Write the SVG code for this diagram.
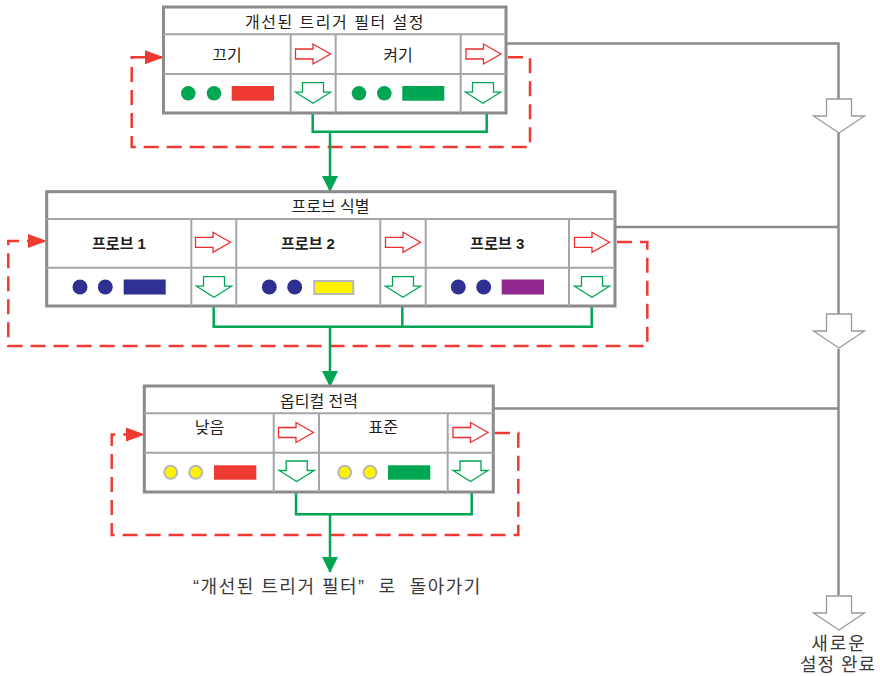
<svg xmlns="http://www.w3.org/2000/svg" width="880" height="676" viewBox="0 0 880 676">
<style>
.outer{fill:#fff;stroke:#8b8b8d;stroke-width:3}
.inner{stroke:#a6a6a8;stroke-width:2;fill:none}
.t{font-family:"Liberation Sans","Noto Sans CJK KR",sans-serif;fill:#231f20;text-anchor:middle}
.title{font-size:16px}
.lbl{font-size:16px}
.bold{font-size:15px;font-weight:bold}
.big{font-size:18px;fill:#3a3a3a}
.redarr{fill:#fff;stroke:#ee2d2d;stroke-width:1.3}
.grnarr{fill:#fff;stroke:#00a651;stroke-width:1.3}
.grayarr{fill:#fff;stroke:#9a9a9c;stroke-width:1.3}
.dash{fill:none;stroke:#ee3a32;stroke-width:2.5;stroke-dasharray:15 8}
.grn{fill:none;stroke:#00a651;stroke-width:2.5}
.gray{fill:none;stroke:#8b8b8d;stroke-width:2.5}
.g{fill:#00a651}.r{fill:#ee3a32}.n{fill:#2e3192}.p{fill:#92278f}
.y{fill:#fff200;stroke:#b8b8b8;stroke-width:2}
</style>
<defs>
<path id="ra" class="redarr" d="M-17.5,-5 H0 V-10 L17.5,0 L0,10 V5 H-17.5 Z"/>
<path id="ga" class="grnarr" d="M-10.5,0 H10.5 V9.5 H17.5 L0,20.5 L-17.5,9.5 H-10.5 Z"/>
<path id="ba" class="grayarr" d="M-12.5,0 H12.5 V17 H25.5 L0,34 L-25.5,17 H-12.5 Z"/>
<marker id="mr" viewBox="0 0 19 14" refX="18" refY="7" markerWidth="19" markerHeight="14" markerUnits="userSpaceOnUse" orient="auto"><path d="M0,0 L19,7 L0,14 Z" fill="#ee3a32"/></marker>
<marker id="mg" viewBox="0 0 16 16" refX="15" refY="8" markerWidth="16" markerHeight="16" markerUnits="userSpaceOnUse" orient="auto"><path d="M0,0 L16,8 L0,16 Z" fill="#00a651"/></marker>
</defs>

<g id="connectors">
<path class="gray" d="M506,43.5 H838.5 V99"/>
<path class="gray" d="M838.5,133 V314"/>
<path class="gray" d="M615,227 H838.5"/>
<path class="gray" d="M838.5,349 V595"/>
<path class="gray" d="M493,408.5 H838.5"/>
<use href="#ba" x="839" y="99"/>
<use href="#ba" x="839" y="314"/>
<use href="#ba" x="839" y="596"/>
<path class="dash" d="M508,57.3 H530 V147 H131.7 V57.3 H163" marker-end="url(#mr)"/>
<path class="dash" d="M617,242 H647.3 V346 H8.3 V241 H46" marker-end="url(#mr)"/>
<path class="dash" d="M495,433 H518.3 V535 H111.7 V434.5 H144" marker-end="url(#mr)"/>
<path class="grn" d="M312.7,113 V131.7 H486.7 V113"/>
<path class="grn" d="M330,131.7 V191" marker-end="url(#mg)"/>
<path class="grn" d="M213.7,306 V326.7 H591.7 V306 M402.3,306 V326.7"/>
<path class="grn" d="M330,326.7 V386" marker-end="url(#mg)"/>
<path class="grn" d="M296,492 V514.3 H471.7 V492"/>
<path class="grn" d="M330,514.3 V572" marker-end="url(#mg)"/>
</g>

<g id="box-trigger">
<rect class="outer" x="163.5" y="7" width="342.5" height="106"/>
<path class="inner" d="M163.5,34.3 H506 M163.5,74 H506 M290.7,34.3 V113 M335.7,34.3 V113 M460.7,34.3 V113"/>
<text class="t title" x="335" y="28" letter-spacing="1.5">개선된 트리거 필터 설정</text>
<text class="t lbl" x="227" y="61">끄기</text>
<text class="t lbl" x="398" y="61">켜기</text>
<use href="#ra" x="313" y="54"/>
<use href="#ra" x="483.5" y="54"/>
<use href="#ga" x="313" y="82.7"/>
<use href="#ga" x="483" y="82.7"/>
<circle class="g" cx="188.3" cy="93.3" r="7.3"/>
<circle class="g" cx="214" cy="93.3" r="7.3"/>
<rect class="r" x="231.7" y="86" width="42.3" height="14.7"/>
<circle class="g" cx="359" cy="93.3" r="7.3"/>
<circle class="g" cx="384.3" cy="93.3" r="7.3"/>
<rect class="g" x="402.3" y="86" width="42" height="14.7"/>
</g>

<g id="box-probe">
<rect class="outer" x="46.7" y="191.7" width="568.3" height="114.3"/>
<path class="inner" d="M46.7,219 H615 M46.7,267.7 H615 M191.3,219 V306 M236.3,219 V306 M380.3,219 V306 M425.7,219 V306 M569,219 V306"/>
<text class="t title" x="330.5" y="212">프로브 식별</text>
<text class="t bold" x="119" y="249">프로브 1</text>
<text class="t bold" x="308" y="249">프로브 2</text>
<text class="t bold" x="497.3" y="249">프로브 3</text>
<use href="#ra" x="213" y="242.3"/>
<use href="#ra" x="403" y="242.3"/>
<use href="#ra" x="592" y="242.3"/>
<use href="#ga" x="214" y="276.7"/>
<use href="#ga" x="403" y="276.7"/>
<use href="#ga" x="592" y="276.7"/>
<circle class="n" cx="80" cy="287" r="7.5"/>
<circle class="n" cx="105.3" cy="287" r="7.5"/>
<rect class="n" x="123.7" y="279.5" width="42" height="15"/>
<circle class="n" cx="269.3" cy="287" r="7.5"/>
<circle class="n" cx="294.7" cy="287" r="7.5"/>
<rect class="y" x="314.3" y="281" width="39" height="13"/>
<circle class="n" cx="458.3" cy="287" r="7.5"/>
<circle class="n" cx="483.7" cy="287" r="7.5"/>
<rect class="p" x="501.7" y="279.5" width="42.3" height="15"/>
</g>

<g id="box-power">
<rect class="outer" x="144.3" y="386" width="349" height="106"/>
<path class="inner" d="M144.3,413.3 H493.3 M144.3,452.7 H493.3 M273.7,413.3 V492 M319,413.3 V492 M447.7,413.3 V492"/>
<text class="t title" x="319" y="407">옵티컬 전력</text>
<text class="t lbl" x="209.5" y="433">낮음</text>
<text class="t lbl" x="383.3" y="433">표준</text>
<use href="#ra" x="296" y="432.5"/>
<use href="#ra" x="470.5" y="432.5"/>
<use href="#ga" x="296.7" y="461"/>
<use href="#ga" x="470.5" y="461"/>
<circle class="y" cx="170.7" cy="472.3" r="6.5"/>
<circle class="y" cx="195.7" cy="472.3" r="6.5"/>
<rect class="r" x="214" y="465.3" width="42.3" height="14.4"/>
<circle class="y" cx="344.7" cy="472.3" r="6.5"/>
<circle class="y" cx="370" cy="472.3" r="6.5"/>
<rect class="g" x="388" y="465.3" width="42.3" height="14.4"/>
</g>

<g id="return-label">
<text class="t big" x="337.5" y="593" letter-spacing="1.5" xml:space="preserve">“개선된 트리거 필터”  로  돌아가기</text>
</g>

<g id="done-label">
<text class="t big" x="839" y="650" letter-spacing="2">새로운</text>
<text class="t big" x="838" y="671" letter-spacing="1">설정 완료</text>
</g>
</svg>
